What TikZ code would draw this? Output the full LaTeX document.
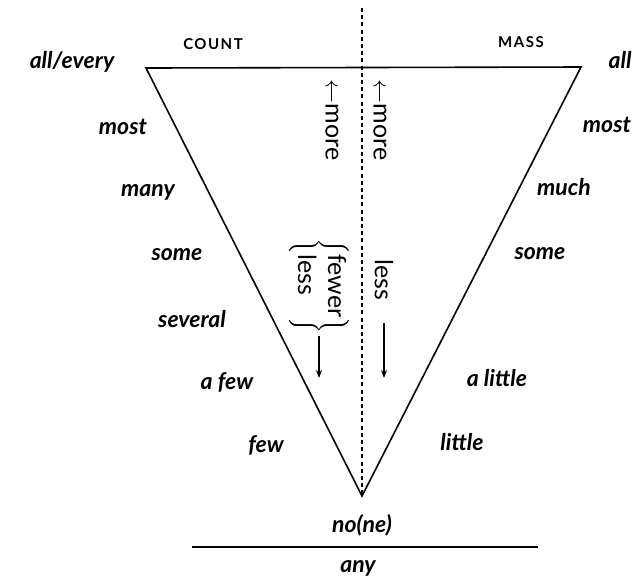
\documentclass[tikz,border=0pt]{standalone}
\usepackage{fontspec}
\setmainfont{Lato}
\usetikzlibrary{arrows.meta}

\begin{document}
\begin{tikzpicture}[x=0.5pt,y=-0.5pt,>={Stealth[length=4pt,width=3pt]},
 quant/.style={font=\fontsize{11.5}{13}\selectfont\bfseries\itshape,inner sep=1pt},
 head/.style={font=\fontsize{7.5}{9}\selectfont\bfseries\addfontfeature{LetterSpace=10},inner sep=1pt},
 vert/.style={rotate=-90,font=\fontsize{12.5}{15}\selectfont,inner sep=1pt},
 edge/.style={line width=.8pt},
 arr/.style={->,line width=.6pt}]
\useasboundingbox (0,0) rectangle (636,575);
\coordinate (tl) at (146,68); \coordinate (tr) at (581,67);
\coordinate (apex) at (362,496); \coordinate (top) at (362,8);
\draw[edge] (tl)--(tr)--(apex)--cycle;
\draw[line width=.7pt,dash pattern=on 2pt off 1.6pt] (top)--(apex);
% headings
\node[head] (count) at (213,44) {COUNT};
\node[head] (mass) at (521,42) {MASS};
% count side
\node[quant] (every) at (72,62) {all/every};
\node[quant] (mostc) at (123,127) {most};
\node[quant] (many) at (148,192) {many};
\node[quant] (somec) at (177,255) {some};
\node[quant] (several) at (192,319) {several};
\node[quant] (afew) at (227,382) {a few};
\node[quant] (few) at (266,445) {few};
% mass side
\node[quant] (all) at (620,60) {all};
\node[quant] (mostm) at (607,125) {most};
\node[quant] (much) at (564,187) {much};
\node[quant] (somem) at (540,254) {some};
\node[quant] (alittle) at (497,378) {a little};
\node[quant] (little) at (462,442) {little};
% scale of more and less
\node[vert] (morec) at (332,120) {$\leftarrow$more};
\node[vert] (morem) at (380,120) {$\leftarrow$more};
\node[vert] (fewless) at (319,286) {$\left\{\begin{tabular}{@{}l@{}}fewer\\less\end{tabular}\right\}$};
\node[vert] (lessm) at (384,280) {less};
\coordinate (downc) at (319,378); \coordinate (downm) at (383,378);
\draw[arr] (fewless.east)--(fewless.east |- downc);
\draw[arr] ([yshift=-10pt]lessm.east)--(lessm.east |- downm);
% bottom
\node[quant] (none) at (362,525) {no(ne)};
\coordinate (ruleA) at (192,547); \coordinate (ruleB) at (538,547);
\draw[edge] (ruleA)--(ruleB);
\node[quant] (any) at (358,568) {any};
\end{tikzpicture}
\end{document}
